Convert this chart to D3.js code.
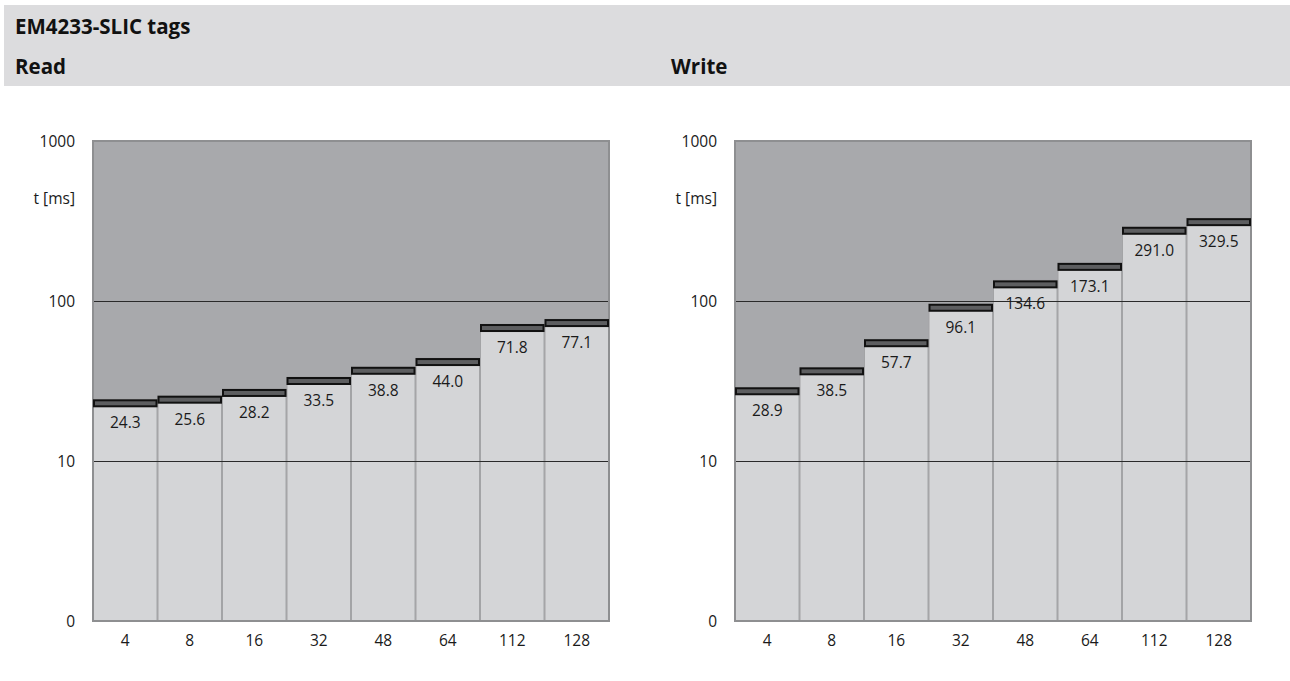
<!DOCTYPE html>
<html>
<head>
<meta charset="utf-8">
<script src="https://cdn.jsdelivr.net/npm/d3@7"></script>
<style>
  html, body { margin: 0; padding: 0; background: #ffffff; }
  svg { display: block; font-family: "Open Sans", "Noto Sans", sans-serif; }
</style>
</head>
<body>
<svg id="chart" width="1290" height="681"></svg>
<script>
// ---- data ----
const title = "EM4233-SLIC tags";
const categories = ["4", "8", "16", "32", "48", "64", "112", "128"];
const readValues = [24.3, 25.6, 28.2, 33.5, 38.8, 44.0, 71.8, 77.1];
const writeValues = [28.9, 38.5, 57.7, 96.1, 134.6, 173.1, 291.0, 329.5];
const yTicks = [1, 10, 100, 1000];
const yTickLabels = ["0", "10", "100", "1000"];
const yUnit = "t [ms]";
const panelTitles = ["Read", "Write"];

// ---- drawing ----
const svg = d3.select("#chart");
svg.append("rect").attr("x", 0).attr("y", 0).attr("width", 1290).attr("height", 681).attr("fill", "#ffffff");
svg.append("rect").attr("x", 4).attr("y", 5).attr("width", 1286).attr("height", 81).attr("fill", "#dcdcde");
svg.append("text").attr("x", 15).attr("y", 33.5).attr("font-size", 20.5).attr("font-weight", 700)
  .attr("fill", "#111111").text(title);

const panels = [
  { name: panelTitles[0], values: readValues, left: 93, titleX: 15 },
  { name: panelTitles[1], values: writeValues, left: 735, titleX: 671 }
];
const plotW = 516, plotTop = 141, plotBottom = 621;

panels.forEach(p => {
  svg.append("text").attr("x", p.titleX).attr("y", 74).attr("font-size", 20.5).attr("font-weight", 700)
    .attr("fill", "#111111").text(p.name);

  const x = d3.scaleBand().domain(categories).range([p.left, p.left + plotW]).padding(0);
  const y = d3.scaleLog().domain([1, 1000]).range([plotBottom, plotTop]);
  const g = svg.append("g");

  // dark background
  g.append("rect").attr("x", p.left).attr("y", plotTop).attr("width", plotW)
    .attr("height", plotBottom - plotTop).attr("fill", "#a8a9ac");

  // light bars
  g.selectAll("rect.bar").data(p.values).enter().append("rect").attr("class", "bar")
    .attr("x", (d, i) => x(categories[i]) + 0.5)
    .attr("y", d => y(d))
    .attr("width", x.bandwidth() - 1)
    .attr("height", d => plotBottom - y(d))
    .attr("fill", "#d4d5d7").attr("stroke", "#a3a4a6").attr("stroke-width", 1);

  // gridlines
  [10, 100].forEach(v => {
    g.append("line").attr("x1", p.left).attr("x2", p.left + plotW)
      .attr("y1", Math.round(y(v)) + 0.5).attr("y2", Math.round(y(v)) + 0.5)
      .attr("stroke", "#2a2a2a").attr("stroke-width", 1);
  });

  // plot border
  g.append("rect").attr("x", p.left).attr("y", plotTop).attr("width", plotW)
    .attr("height", plotBottom - plotTop).attr("fill", "none")
    .attr("stroke", "#8e8f91").attr("stroke-width", 2);

  // caps
  g.selectAll("rect.cap").data(p.values).enter().append("rect").attr("class", "cap")
    .attr("x", (d, i) => x(categories[i]) + 1)
    .attr("y", d => y(d) + 1)
    .attr("width", x.bandwidth() - 2)
    .attr("height", 6)
    .attr("fill", "#5d5e60").attr("stroke", "#111111").attr("stroke-width", 2);

  // value labels
  g.selectAll("text.val").data(p.values).enter().append("text").attr("class", "val")
    .attr("x", (d, i) => x(categories[i]) + x.bandwidth() / 2)
    .attr("y", d => y(d) + 29)
    .attr("text-anchor", "middle").attr("font-size", 15.5).attr("fill", "#1a1a1a")
    .text(d => d.toFixed(1));

  // y axis labels
  yTicks.forEach((v, i) => {
    g.append("text").attr("x", p.left - 18).attr("y", y(v) + 5.5)
      .attr("text-anchor", "end").attr("font-size", 15.5).attr("fill", "#1a1a1a").text(yTickLabels[i]);
  });
  g.append("text").attr("x", p.left - 18).attr("y", 204)
    .attr("text-anchor", "end").attr("font-size", 15.5).attr("fill", "#1a1a1a").text(yUnit);

  // x axis labels
  const xAxis = d3.axisBottom(x).tickSize(0).tickPadding(0);
  const ax = g.append("g").attr("transform", `translate(0,${plotBottom})`).call(xAxis);
  ax.select(".domain").remove();
  ax.selectAll("text").attr("font-size", 15.5).attr("fill", "#1a1a1a")
    .attr("font-family", "\"Open Sans\", \"Noto Sans\", sans-serif")
    .attr("dy", null).attr("y", 24.5);
});
</script>
</body>
</html>
